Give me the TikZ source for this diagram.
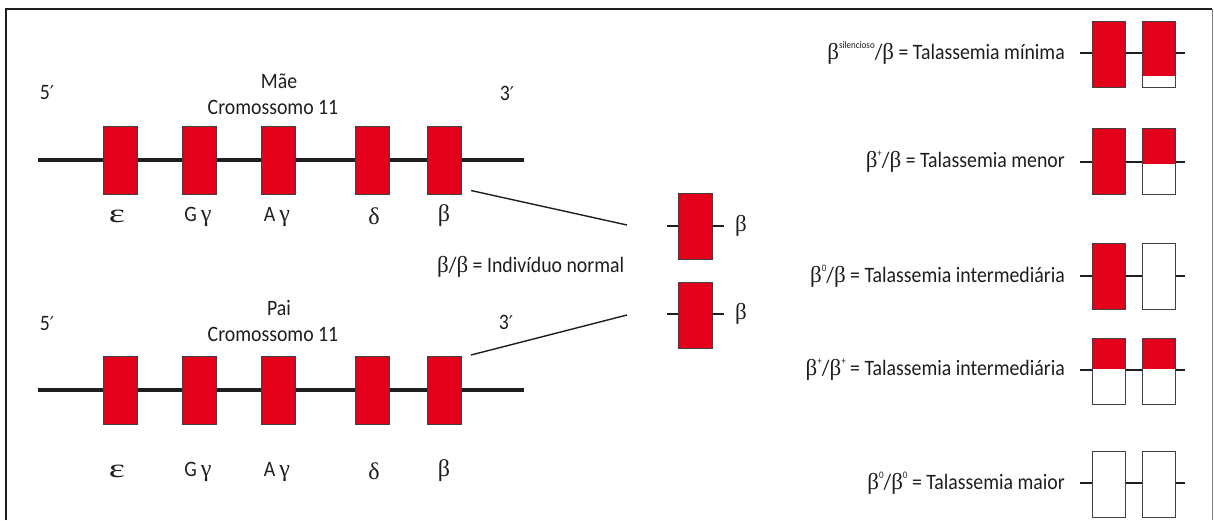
\documentclass[tikz,border=0pt]{standalone}
\usepackage{fontspec}
\setmainfont{Carlito}[FakeStretch=0.9]
\newfontfamily\grk{Liberation Serif}
\newfontfamily\djv{DejaVu Sans}
\usetikzlibrary{calc}
\definecolor{genered}{RGB}{226,0,26}
\definecolor{ink}{RGB}{30,30,30}
\newcommand{\bt}{{\grk\fontsize{23}{23}\selectfont β}}
\newcommand{\sups}[1]{\raisebox{0.5em}{\fontsize{10}{10}\selectfont #1}}
\newcommand{\prm}{{\djv\fontsize{19}{19}\selectfont ′}}
\begin{document}
\begin{tikzpicture}[x=1pt,y=-1pt,font=\fontsize{22}{26}\selectfont,text=ink,
  chrom/.style={line width=3.2pt,draw=ink},
  gene/.style={draw=ink!85,line width=1pt,fill=genered,minimum width=34pt,minimum height=68pt,inner sep=0pt},
  allele/.style={draw=ink!85,line width=1pt,fill=white,minimum width=33pt,minimum height=66pt,inner sep=0pt},
  redtop/.style={path picture={\fill[genered] (path picture bounding box.north west) rectangle ($(path picture bounding box.north east)!#1!(path picture bounding box.south east)$);}},
  stub/.style={line width=2.8pt,draw=ink},
  link/.style={line width=1.4pt,draw=ink},
  lbl/.style={inner sep=0pt},
  glbl/.style={inner sep=0pt,font=\grk\fontsize{24}{24}\selectfont}]
\useasboundingbox (0,0) rectangle (1214,520);
% frame
\draw[ink,line width=2.5pt] (6,520) -- (6,8.5);
\draw[ink,line width=2pt] (5,8.5) -- (1212,8.5);
\draw[gray,line width=0.8pt] (1212,8.5) -- (1212,520);

% ---- top chromosome (Mae)
\coordinate (ts) at (38,160);
\coordinate (te) at (524,160);
\draw[chrom] (ts) -- (te);
\foreach \n/\x in {tE/120,tG/199,tA/278,tD/372,tB/444.5}
  \node[gene] (\n) at (\x,160) {};
\node[lbl] (t5) at (47,93) {5\prm};
\node[lbl] (t3) at (507,93) {3\prm};
\node[lbl] (tm) at (279,81) {Mãe};
\node[lbl] (tc) at (273,107) {Cromossomo 11};
\node[glbl] (tlE) at (117,216) {\scalebox{1.6}[1.1]{ε}};
\node[glbl] (tlG) at (198,217) {{\rmfamily\fontsize{22}{22}\selectfont G}\,γ};
\node[glbl] (tlA) at (277,217) {{\rmfamily\fontsize{22}{22}\selectfont A}\,γ};
\node[glbl] (tlD) at (374,216) {δ};
\node[glbl] (tlB) at (444,216) {β};

% ---- bottom chromosome (Pai)
\coordinate (bs) at (38,390);
\coordinate (be) at (524,390);
\draw[chrom] (bs) -- (be);
\foreach \n/\x in {bE/120,bG/199,bA/278,bD/372,bB/444.5}
  \node[gene] (\n) at (\x,390.5) {};
\node[lbl] (b5) at (47,324) {5\prm};
\node[lbl] (b3) at (506,322) {3\prm};
\node[lbl] (bm) at (279,308) {Pai};
\node[lbl] (bc) at (273,334) {Cromossomo 11};
\node[glbl] (blE) at (117,471) {\scalebox{1.6}[1.1]{ε}};
\node[glbl] (blG) at (198,472) {{\rmfamily\fontsize{22}{22}\selectfont G}\,γ};
\node[glbl] (blA) at (277,472) {{\rmfamily\fontsize{22}{22}\selectfont A}\,γ};
\node[glbl] (blD) at (374,471) {δ};
\node[glbl] (blB) at (444,471) {β};

% ---- offspring
\coordinate (cu) at (627,225);
\coordinate (cl) at (627,315);
\draw[stub] (667,226) coordinate (nus) -- (724,226) coordinate (nue);
\draw[stub] (667,314) coordinate (nls) -- (724,314) coordinate (nle);
\node[gene,minimum height=66pt] (nu) at (695,226) {};
\node[gene,minimum height=66pt] (nl) at (695,315) {};
\node[lbl,anchor=west] (nub) at (735,226) {\bt};
\node[lbl,anchor=west] (nlb) at (735,314) {\bt};
\node[lbl,anchor=west] (nn) at (437,267) {\bt/\bt{} = Indivíduo normal};
\draw[link] ([shift={(9,-4)}]tB.south east) -- (cu);
\draw[link] ([shift={(9,-1)}]bB.north east) -- (cl);

% ---- right column
\foreach \r/\y in {1/53,2/162,3/276,4/370,5/483}
  \draw[stub] (1080,\y) coordinate (s\r) -- (1185,\y) coordinate (e\r);
\node[allele,fill=genered] (a1) at (1108.5,54) {};
\node[allele,redtop=0.83] (c1) at (1158.5,54) {};
\node[allele,fill=genered] (a2) at (1108.5,161.5) {};
\node[allele,redtop=0.54] (c2) at (1158.5,161.5) {};
\node[allele,fill=genered] (a3) at (1108.5,276.5) {};
\node[allele] (c3) at (1158.5,276.5) {};
\node[allele,redtop=0.47] (a4) at (1108.5,371) {};
\node[allele,redtop=0.47] (c4) at (1158.5,371) {};
\node[allele] (a5) at (1108.5,484) {};
\node[allele] (c5) at (1158.5,484) {};
\node[lbl,anchor=east] (r1) at (1065,53) {\bt\sups{silencioso}/\bt{} = Talassemia mínima};
\node[lbl,anchor=east] (r2) at (1065,162) {\bt\sups{+}/\bt{} = Talassemia menor};
\node[lbl,anchor=east] (r3) at (1065,276) {\bt\sups{0}/\bt{} = Talassemia intermediária};
\node[lbl,anchor=east] (r4) at (1065,370) {\bt\sups{+}/\bt\sups{+} = Talassemia intermediária};
\node[lbl,anchor=east] (r5) at (1065,483) {\bt\sups{0}/\bt\sups{0} = Talassemia maior};
\end{tikzpicture}
\end{document}
